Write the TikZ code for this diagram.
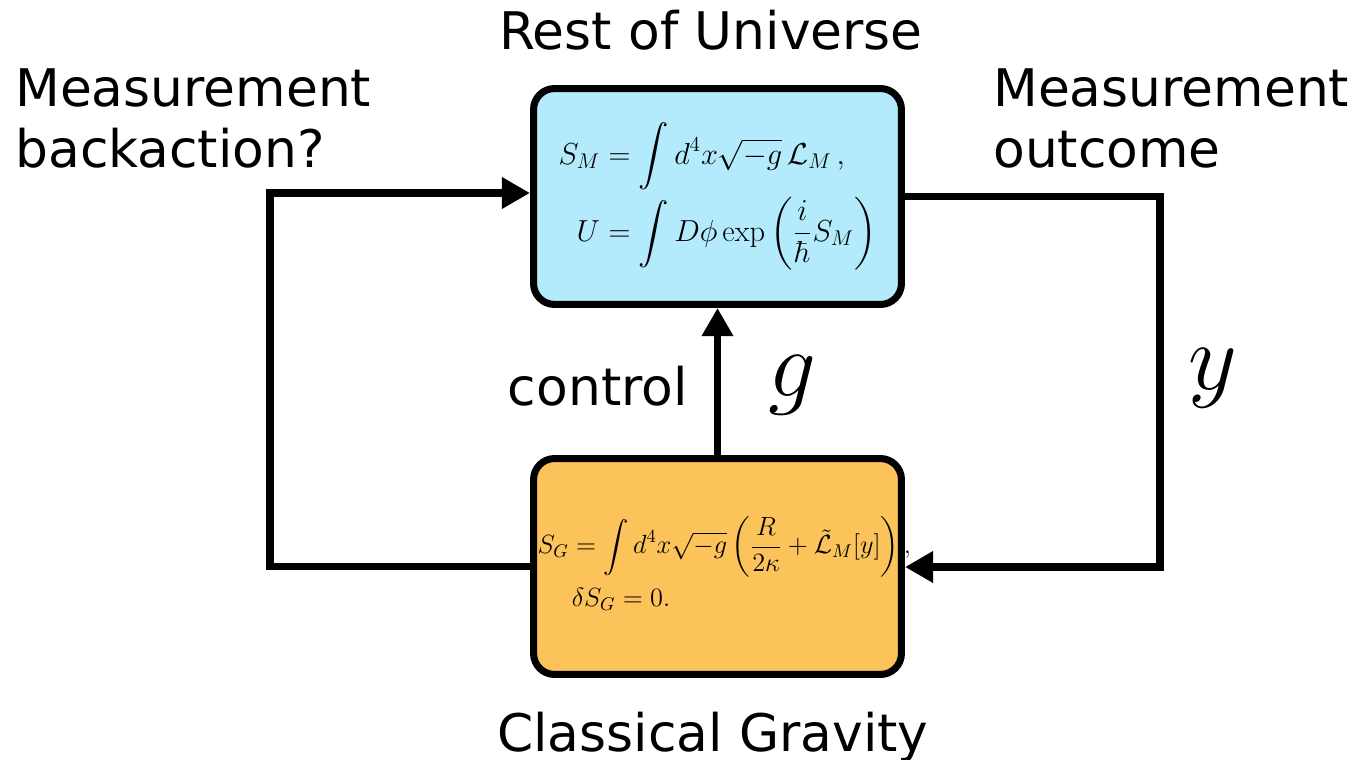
\RequirePackage{fix-cm}
\documentclass[tikz,border=0pt]{standalone}
\usepackage{amsmath}
\usepackage{fontspec}
\setsansfont{DejaVu Sans}
\usetikzlibrary{positioning,arrows.meta,calc}
\definecolor{colUniverso}{HTML}{B3EAFC}
\definecolor{colGravedad}{HTML}{FCC35A}

\begin{document}
\begin{tikzpicture}[
  x=0.02cm, y=-0.02cm,
  >={Triangle[length=16pt,width=17pt]},
  lbl/.style={font=\sffamily\fontsize{29.5}{35}\selectfont, inner sep=0pt},
  eqbox/.style={
    rectangle, draw=black, line width=4pt,
    minimum width=7.36cm, minimum height=4.32cm,
    rounded corners=12pt, inner sep=0pt
  },
  bigsym/.style={inner sep=0pt, font=\fontsize{54}{60}\selectfont},
  flow/.style={draw, line width=4pt}
]
  \useasboundingbox (0,0) rectangle (1356,760);

  % Rest of Universe
  \node[eqbox, fill=colUniverso, font=\fontsize{17.3}{21}\selectfont] (univ) at (717.5,196.5) {$\displaystyle
    \begin{aligned}
      S_M &= \int d^4x\sqrt{-g}\,\mathcal{L}_M\,,\\
      U &= \int D\phi\exp\left(\frac{i}{\hbar}S_M\right)
    \end{aligned}$};

  % Classical Gravity
  \node[eqbox, fill=colGravedad, font=\fontsize{15}{18}\selectfont] (grav) at (717.5,566.5) {\makebox[7.2cm][l]{$\displaystyle
    \begin{aligned}
      &S_G = \int d^4x\sqrt{-g}\left(\frac{R}{2\kappa}+\tilde{\mathcal{L}}_M[y]\right),\\
      &\hspace{1.3em}\delta S_G = 0.
    \end{aligned}$}};

  % Labels
  \node[lbl, anchor=base] (titUniv) at (711,50) {Rest of Universe};
  \node[lbl, anchor=base] (titGrav) at (713,751) {Classical Gravity};
  \node[lbl, anchor=north west, align=left] (backact) at (15,68) {Measurement\\backaction?};
  \node[lbl, anchor=north west, align=left] (outcome) at (993,68) {Measurement\\outcome};
  \node[lbl, anchor=base east] (control) at (688,405) {control};
  \node[bigsym] (gsym) at (792,385) {$g$};
  \node[bigsym] (ysym) at (1213,378) {$y$};

  % Relaciones
  \draw[flow, ->] (grav.north) -- (univ.south);
  \draw[flow, ->] (grav.west) -| (270,193) -- (univ.west |- 0,193);
  \draw[flow, ->] (univ.east) -| (1160,567) -- (grav.east |- 0,567);

\end{tikzpicture}
\end{document}
